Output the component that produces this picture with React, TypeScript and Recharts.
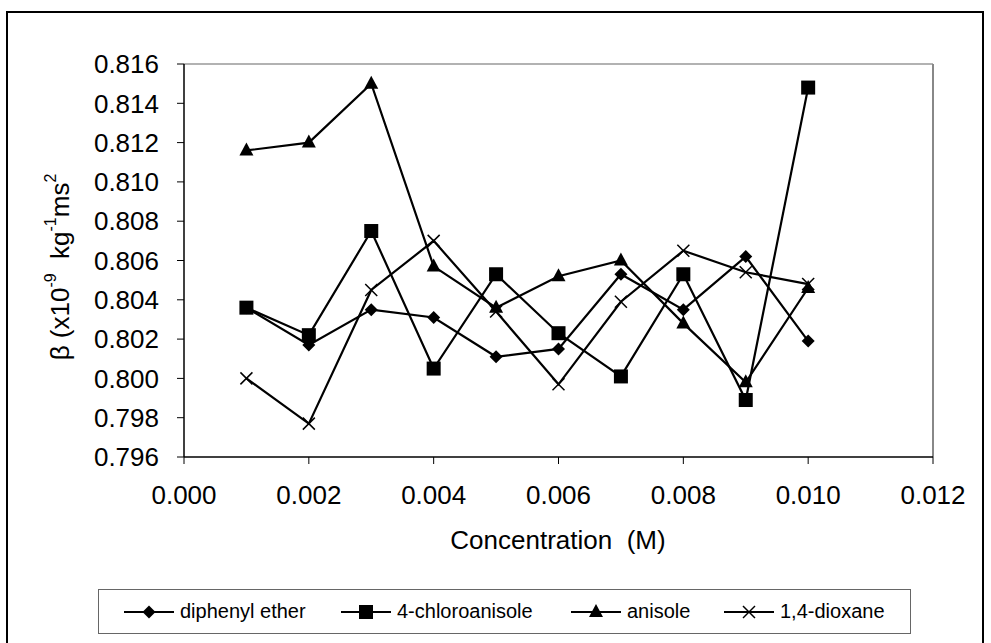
import React from 'react';
import { LineChart, Line, XAxis, YAxis, ReferenceLine } from 'recharts';

const concentration = [0.001, 0.002, 0.003, 0.004, 0.005, 0.006, 0.007, 0.008, 0.009, 0.01];
const diphenylEther = [0.8036, 0.8017, 0.8035, 0.8031, 0.8011, 0.8015, 0.8053, 0.8035, 0.8062, 0.8019];
const chloroanisole = [0.8036, 0.8022, 0.8075, 0.8005, 0.8053, 0.8023, 0.8001, 0.8053, 0.7989, 0.8148];
const anisole = [0.8116, 0.812, 0.815, 0.8057, 0.8036, 0.8052, 0.806, 0.8028, 0.7998, 0.8046];
const dioxane = [0.8, 0.7977, 0.8045, 0.807, 0.8034, 0.7997, 0.8039, 0.8065, 0.8054, 0.8048];

const xTicks = [0, 0.002, 0.004, 0.006, 0.008, 0.01, 0.012];
const yTicks = [0.796, 0.798, 0.8, 0.802, 0.804, 0.806, 0.808, 0.81, 0.812, 0.814, 0.816];

const data = concentration.map((c, i) => ({
  c,
  diphenyl: diphenylEther[i],
  chloro: chloroanisole[i],
  anisole: anisole[i],
  dioxane: dioxane[i],
}));

const FONT = '"Liberation Sans", Arial, sans-serif';

type Shape = 'diamond' | 'square' | 'triangle' | 'cross';

const Marker = ({ shape, cx, cy }: { shape: Shape; cx: number; cy: number }) => {
  if (shape === 'diamond') {
    const r = 6.5;
    return <polygon points={`${cx},${cy - r} ${cx + r},${cy} ${cx},${cy + r} ${cx - r},${cy}`} fill="#000" />;
  }
  if (shape === 'square') {
    return <rect x={cx - 7} y={cy - 7} width={14} height={14} fill="#000" />;
  }
  if (shape === 'triangle') {
    return <polygon points={`${cx},${cy - 8} ${cx + 7},${cy + 5} ${cx - 7},${cy + 5}`} fill="#000" />;
  }
  const r = 6;
  return (
    <g stroke="#000" strokeWidth={1.5}>
      <line x1={cx - r} y1={cy - r} x2={cx + r} y2={cy + r} />
      <line x1={cx - r} y1={cy + r} x2={cx + r} y2={cy - r} />
    </g>
  );
};

const dotFor = (shape: Shape) => (props: any) => (
  <Marker key={`${shape}-${props.index}`} shape={shape} cx={props.cx} cy={props.cy} />
);

// legend text left edges
const series: { key: string; name: string; shape: Shape; textX: number }[] = [
  { key: 'diphenyl', name: 'diphenyl ether', shape: 'diamond', textX: 180 },
  { key: 'chloro', name: '4-chloroanisole', shape: 'square', textX: 397 },
  { key: 'anisole', name: 'anisole', shape: 'triangle', textX: 627 },
  { key: 'dioxane', name: '1,4-dioxane', shape: 'cross', textX: 780 },
];

const YLabel = () => {
  const cx = 60;
  const cy = 267;
  return (
    <text
      x={cx}
      y={cy}
      transform={`rotate(-90, ${cx}, ${cy})`}
      textAnchor="middle"
      dominantBaseline="central"
      fontSize={26}
      fontFamily={FONT}
      fill="#000"
      style={{ whiteSpace: 'pre' }}
    >
      β (x10
      <tspan dy={-10} fontSize={16}>-9</tspan>
      <tspan dy={10}>  kg</tspan>
      <tspan dy={-10} fontSize={16}>-1</tspan>
      <tspan dy={10}>ms</tspan>
      <tspan dy={-10} fontSize={16}>2</tspan>
    </text>
  );
};

const XLabel = () => (
  <text x={558} y={540} textAnchor="middle" dominantBaseline="central" fontSize={26} fontFamily={FONT} fill="#000" style={{ whiteSpace: 'pre' }}>
    Concentration  (M)
  </text>
);

const LEGEND_LEFT = 98;

const App: React.FC = () => {
  return (
    <div style={{ position: 'absolute', left: 0, top: 0, width: 991, height: 643, background: '#fff', fontFamily: FONT }}>
      <div style={{ position: 'absolute', left: 6, top: 11, width: 978, height: 640, border: '2px solid #000', boxSizing: 'border-box' }} />
      <LineChart width={991} height={643} data={data} margin={{ top: 64, right: 58, bottom: 106, left: 64 }} style={{ position: 'absolute', left: 0, top: 0 }}>
        <XAxis
          dataKey="c"
          type="number"
          domain={[0, 0.012]}
          ticks={xTicks}
          tickFormatter={(v: number) => v.toFixed(3)}
          height={80}
          tickSize={7}
          tickMargin={22}
          axisLine={{ stroke: '#000', strokeWidth: 1.5 }}
          tickLine={{ stroke: '#000' }}
          tick={{ fill: '#000', fontSize: 26, fontFamily: FONT }}
          interval={0}
          label={XLabel}
        />
        <YAxis
          type="number"
          domain={[0.796, 0.816]}
          ticks={yTicks}
          tickFormatter={(v: number) => v.toFixed(3)}
          width={120}
          tickSize={7}
          tickMargin={18}
          axisLine={{ stroke: '#000', strokeWidth: 1.5 }}
          tickLine={{ stroke: '#000' }}
          tick={{ fill: '#000', fontSize: 26, fontFamily: FONT }}
          interval={0}
          allowDataOverflow
          label={YLabel}
        />
        <ReferenceLine y={0.816} stroke="#999" strokeWidth={1.5} />
        <ReferenceLine x={0.012} stroke="#888" strokeWidth={2} />
        {series.map((s) => (
          <Line
            key={s.key}
            dataKey={s.key}
            name={s.name}
            stroke="#000"
            strokeWidth={2.2}
            dot={dotFor(s.shape)}
            activeDot={false}
            isAnimationActive={false}
          />
        ))}
      </LineChart>
      <div
        style={{
          position: 'absolute',
          left: LEGEND_LEFT,
          top: 589,
          width: 813,
          height: 45,
          border: '1px solid #666',
          boxSizing: 'border-box',
          fontSize: 20,
          color: '#000',
        }}
      >
        {series.map((s) => (
          <div
            key={s.key}
            style={{ position: 'absolute', left: s.textX - LEGEND_LEFT - 57, top: 0, height: 43, display: 'flex', alignItems: 'center', whiteSpace: 'nowrap' }}
          >
            <svg width={50} height={20} style={{ marginRight: 6 }}>
              <line x1={0} y1={10} x2={50} y2={10} stroke="#000" strokeWidth={2} />
              <Marker shape={s.shape} cx={25} cy={10} />
            </svg>
            <span>{s.name}</span>
          </div>
        ))}
      </div>
    </div>
  );
};

export default App;
